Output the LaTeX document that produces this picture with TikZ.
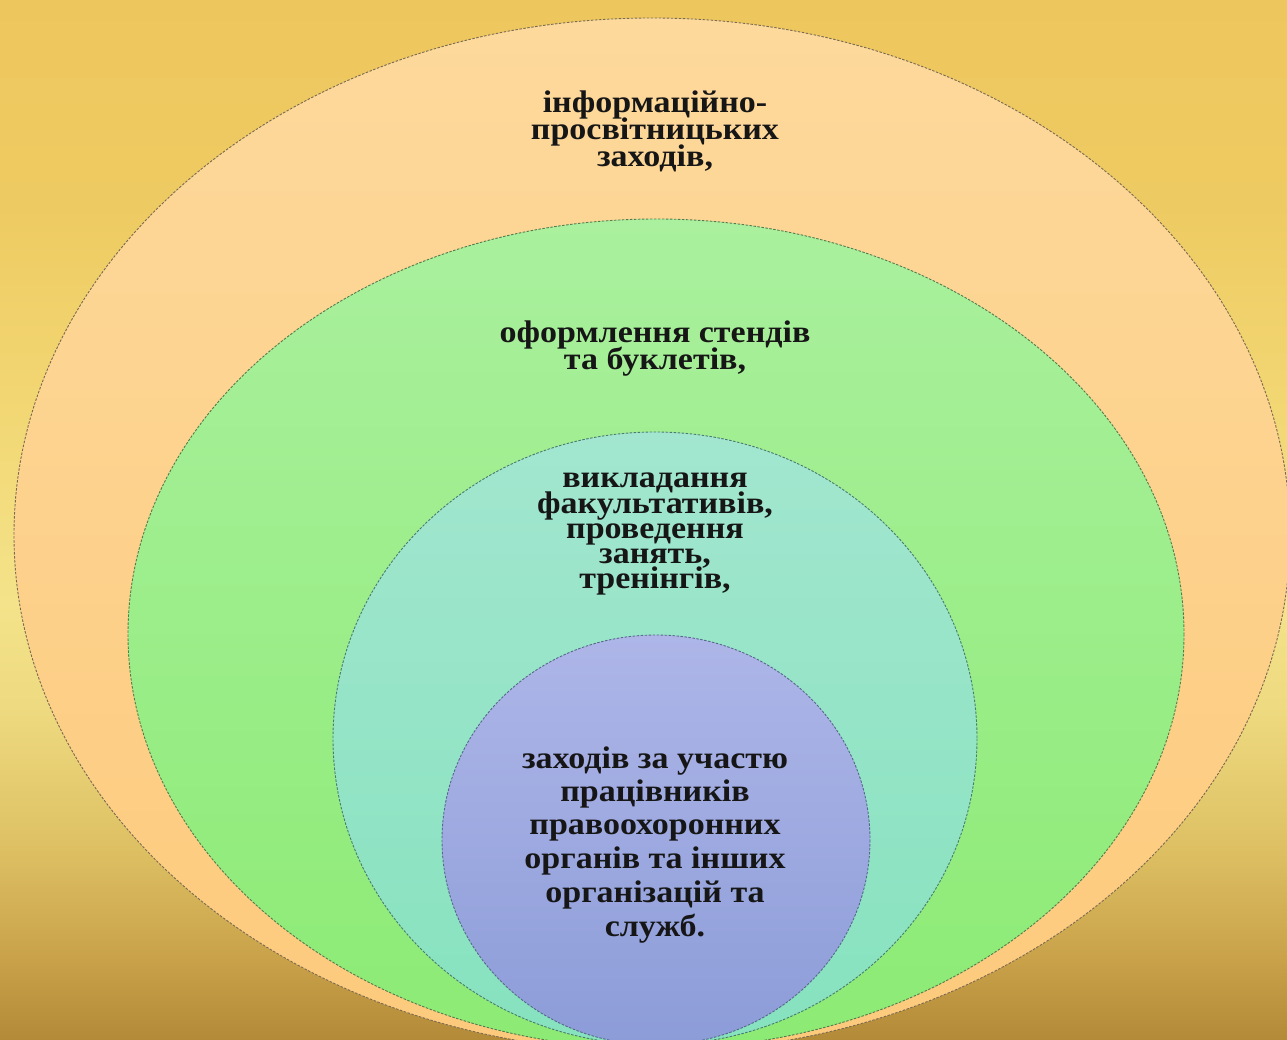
\documentclass[tikz,border=0pt]{standalone}
\usepackage{fontspec}
\setmainfont{Liberation Serif}
\definecolor{bgA}{HTML}{B38A38}
\definecolor{bgB}{HTML}{C9A24A}
\definecolor{bgC}{HTML}{DDBF62}
\definecolor{bgD}{HTML}{EEDA80}
\definecolor{bgE}{HTML}{F4E38A}
\definecolor{bgF}{HTML}{F2D672}
\definecolor{bgG}{HTML}{EECB62}
\definecolor{bgH}{HTML}{EEC65E}
\definecolor{pchT}{HTML}{FDD99C}
\definecolor{pchB}{HTML}{FDCA7C}
\definecolor{grnT}{HTML}{AAF09E}
\definecolor{grnB}{HTML}{8CEB74}
\definecolor{tlT}{HTML}{A2E6CF}
\definecolor{tlB}{HTML}{86E2BE}
\definecolor{bluT}{HTML}{AEB6E8}
\definecolor{bluB}{HTML}{8C9CD8}
\definecolor{pchLine}{HTML}{7A6A50}
\definecolor{grnLine}{HTML}{557A4C}
\definecolor{tlLine}{HTML}{4A7A70}
\definecolor{bluLine}{HTML}{56688A}
\definecolor{txt}{HTML}{161616}
\newcommand\sqztext[1]{\scalebox{1}[0.92]{#1}}
\pgfdeclareverticalshading{bgshade}{100bp}{color(0bp)=(bgA); color(25bp)=(bgA); color(29bp)=(bgB); color(34bp)=(bgC); color(41bp)=(bgD); color(46bp)=(bgE); color(56bp)=(bgF); color(65bp)=(bgG); color(75bp)=(bgH); color(100bp)=(bgH)}
\begin{document}
\begin{tikzpicture}[x=1pt,y=-1pt,
  ring/.style={line width=0.9pt, dash pattern=on 2.5pt off 1.5pt},
  lbl/.style={font=\fontsize{34}{34}\selectfont\bfseries, text=txt, anchor=base, inner sep=0pt}]
\useasboundingbox (0,0) rectangle (1287,1040);
\clip (0,0) rectangle (1287,1040);
\shade[shading=bgshade] (0,0) rectangle (1287,1040);
% nested ellipses
\shade[ring, draw=pchLine, top color=pchT, bottom color=pchB] (652,535) ellipse [x radius=638, y radius=517];
\shade[ring, draw=grnLine, top color=grnT, bottom color=grnB] (656,634) ellipse [x radius=528, y radius=415];
\shade[ring, draw=tlLine, top color=tlT, bottom color=tlB] (655,738.5) ellipse [x radius=322, y radius=306.5];
\shade[ring, draw=bluLine, top color=bluT, bottom color=bluB] (656,840) ellipse [x radius=214, y radius=205];
% outer text
\node[lbl] (o1) at (655,113) {\sqztext{інформаційно-}};
\node[lbl] (o2) at (655,140) {\sqztext{просвітницьких}};
\node[lbl] (o3) at (655,167) {\sqztext{заходів,}};
% green text
\node[lbl] (g1) at (655,343) {\sqztext{оформлення стендів}};
\node[lbl] (g2) at (655,370) {\sqztext{та буклетів,}};
% teal text
\node[lbl] (t1) at (655,487) {\sqztext{викладання}};
\node[lbl] (t2) at (655,513) {\sqztext{факультативів,}};
\node[lbl] (t3) at (655,538) {\sqztext{проведення}};
\node[lbl] (t4) at (655,563) {\sqztext{занять,}};
\node[lbl] (t5) at (655,588) {\sqztext{тренінгів,}};
% blue text
\node[lbl] (b1) at (655,768) {\sqztext{заходів за участю}};
\node[lbl] (b2) at (655,801) {\sqztext{працівників}};
\node[lbl] (b3) at (655,834) {\sqztext{правоохоронних}};
\node[lbl] (b4) at (655,868) {\sqztext{органів та інших}};
\node[lbl] (b5) at (655,902) {\sqztext{організацій та}};
\node[lbl] (b6) at (655,936) {\sqztext{служб.}};
\end{tikzpicture}
\end{document}
